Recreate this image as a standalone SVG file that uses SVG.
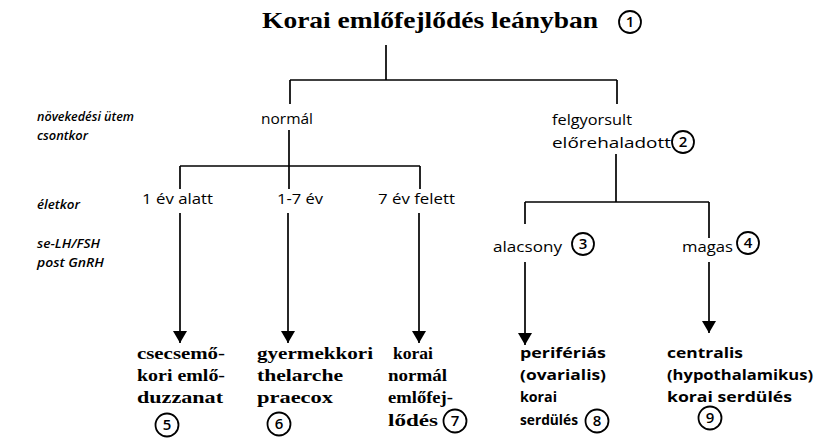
<svg xmlns="http://www.w3.org/2000/svg" width="821" height="444" viewBox="0 0 821 444">
<defs>
<style>
.bg{fill:#fff}
.ln{stroke:#000;stroke-width:1.7;fill:none}
.title{font-family:"Liberation Serif",serif;font-weight:bold;font-size:24px;fill:#000}
.lbl{font-family:"Open Sans","Liberation Sans",sans-serif;font-weight:500;font-size:15px;fill:#000}
.side{font-family:"Open Sans","Liberation Sans",sans-serif;font-style:italic;font-weight:600;font-size:13px;fill:#000}
.res{font-family:"Liberation Serif",serif;font-weight:bold;font-size:17px;fill:#000}
.res2{font-family:"Open Sans","Liberation Sans",sans-serif;font-weight:700;font-size:15px;fill:#000}
.cir{fill:none;stroke:#000;stroke-width:1.8}
.num{font-family:"Open Sans","Liberation Sans",sans-serif;font-weight:600;font-size:15px;fill:#000;text-anchor:middle}
</style>
<marker id="ah" markerWidth="12" markerHeight="14" refX="12" refY="7" orient="auto" markerUnits="userSpaceOnUse" viewBox="0 0 12 14">
<path d="M0,0 L12,7 L0,14 Z" fill="#000"/>
</marker>
</defs>
<rect class="bg" x="0" y="0" width="821" height="444"/>

<g id="side-labels">
<text class="side" x="37" y="121" textLength="97" lengthAdjust="spacingAndGlyphs">növekedési ütem</text>
<text class="side" x="37" y="140" textLength="51" lengthAdjust="spacingAndGlyphs">csontkor</text>
<text class="side" x="37" y="209" textLength="43" lengthAdjust="spacingAndGlyphs">életkor</text>
<text class="side" x="37" y="248" textLength="63" lengthAdjust="spacingAndGlyphs">se-LH/FSH</text>
<text class="side" x="37" y="267" textLength="67" lengthAdjust="spacingAndGlyphs">post GnRH</text>
</g>

<g id="connectors">
<line class="ln" x1="386" y1="45" x2="386" y2="80"/>
<line class="ln" x1="290" y1="80" x2="617" y2="80"/>
<line class="ln" x1="290" y1="80" x2="290" y2="104"/>
<line class="ln" x1="617" y1="80" x2="617" y2="104"/>
<line class="ln" x1="289" y1="130" x2="289" y2="166"/>
<line class="ln" x1="180" y1="166" x2="420" y2="166"/>
<line class="ln" x1="180" y1="166" x2="180" y2="189"/>
<line class="ln" x1="289" y1="166" x2="289" y2="189"/>
<line class="ln" x1="420" y1="166" x2="420" y2="189"/>
<line class="ln" x1="180" y1="213" x2="180" y2="343" marker-end="url(#ah)"/>
<line class="ln" x1="288" y1="213" x2="288" y2="343" marker-end="url(#ah)"/>
<line class="ln" x1="419" y1="213" x2="419" y2="343" marker-end="url(#ah)"/>
<line class="ln" x1="616" y1="154" x2="616" y2="202"/>
<line class="ln" x1="525" y1="202" x2="709" y2="202"/>
<line class="ln" x1="525" y1="202" x2="525" y2="224"/>
<line class="ln" x1="709" y1="202" x2="709" y2="238"/>
<line class="ln" x1="525" y1="262" x2="525" y2="345" marker-end="url(#ah)"/>
<line class="ln" x1="709" y1="262" x2="709" y2="333" marker-end="url(#ah)"/>
</g>

<g id="n1">
<text class="title" x="262" y="28" textLength="336" lengthAdjust="spacingAndGlyphs">Korai emlőfejlődés leányban</text>
<circle class="cir" cx="630" cy="22" r="11"/><text class="num" x="630" y="27">1</text>
</g>

<g id="n-normal">
<text class="lbl" x="261" y="124" textLength="52" lengthAdjust="spacingAndGlyphs">normál</text>
</g>

<g id="n2">
<text class="lbl" x="552" y="125" textLength="80" lengthAdjust="spacingAndGlyphs">felgyorsult</text>
<text class="lbl" x="552" y="148" textLength="119" lengthAdjust="spacingAndGlyphs">előrehaladott</text>
<circle class="cir" cx="683" cy="142" r="11"/><text class="num" x="683" y="147">2</text>
</g>

<g id="n-1ev">
<text class="lbl" x="142" y="204" textLength="71" lengthAdjust="spacingAndGlyphs">1 év alatt</text>
</g>
<g id="n-17ev">
<text class="lbl" x="277" y="204" textLength="46" lengthAdjust="spacingAndGlyphs">1-7 év</text>
</g>
<g id="n-7ev">
<text class="lbl" x="378" y="204" textLength="77" lengthAdjust="spacingAndGlyphs">7 év felett</text>
</g>

<g id="n3">
<text class="lbl" x="493" y="252" textLength="69" lengthAdjust="spacingAndGlyphs">alacsony</text>
<circle class="cir" cx="583" cy="244" r="11"/><text class="num" x="583" y="249">3</text>
</g>
<g id="n4">
<text class="lbl" x="682" y="252" textLength="51" lengthAdjust="spacingAndGlyphs">magas</text>
<circle class="cir" cx="748" cy="243" r="11"/><text class="num" x="748" y="248">4</text>
</g>

<g id="n5">
<text class="res" x="137" y="359" textLength="88" lengthAdjust="spacingAndGlyphs">csecsemő-</text>
<text class="res" x="137" y="381" textLength="88" lengthAdjust="spacingAndGlyphs">kori emlő-</text>
<text class="res" x="137" y="403" textLength="86" lengthAdjust="spacingAndGlyphs">duzzanat</text>
<circle class="cir" cx="167" cy="425" r="11.5"/><text class="num" x="167" y="430">5</text>
</g>
<g id="n6">
<text class="res" x="257" y="359" textLength="116" lengthAdjust="spacingAndGlyphs">gyermekkori</text>
<text class="res" x="257" y="381" textLength="86" lengthAdjust="spacingAndGlyphs">thelarche</text>
<text class="res" x="257" y="403" textLength="76" lengthAdjust="spacingAndGlyphs">praecox</text>
<circle class="cir" cx="279" cy="424" r="11.5"/><text class="num" x="279" y="429">6</text>
</g>
<g id="n7">
<text class="res" x="393" y="359" textLength="40" lengthAdjust="spacingAndGlyphs">korai</text>
<text class="res" x="388" y="381" textLength="59" lengthAdjust="spacingAndGlyphs">normál</text>
<text class="res" x="388" y="403" textLength="65" lengthAdjust="spacingAndGlyphs">emlőfej-</text>
<text class="res" x="388" y="426" textLength="50" lengthAdjust="spacingAndGlyphs">lődés</text>
<circle class="cir" cx="455" cy="421" r="11.5"/><text class="num" x="455" y="426">7</text>
</g>
<g id="n8">
<text class="res2" x="520" y="358" textLength="86" lengthAdjust="spacingAndGlyphs">perifériás</text>
<text class="res2" x="520" y="380" textLength="86" lengthAdjust="spacingAndGlyphs">(ovarialis)</text>
<text class="res2" x="520" y="402" textLength="37" lengthAdjust="spacingAndGlyphs">korai</text>
<text class="res2" x="520" y="425" textLength="58" lengthAdjust="spacingAndGlyphs">serdülés</text>
<circle class="cir" cx="597" cy="421" r="11.5"/><text class="num" x="597" y="426">8</text>
</g>
<g id="n9">
<text class="res2" x="667" y="358" textLength="76" lengthAdjust="spacingAndGlyphs">centralis</text>
<text class="res2" x="667" y="380" textLength="146" lengthAdjust="spacingAndGlyphs">(hypothalamikus)</text>
<text class="res2" x="667" y="402" textLength="125" lengthAdjust="spacingAndGlyphs">korai serdülés</text>
<circle class="cir" cx="710" cy="418" r="11.5"/><text class="num" x="710" y="423">9</text>
</g>
</svg>
